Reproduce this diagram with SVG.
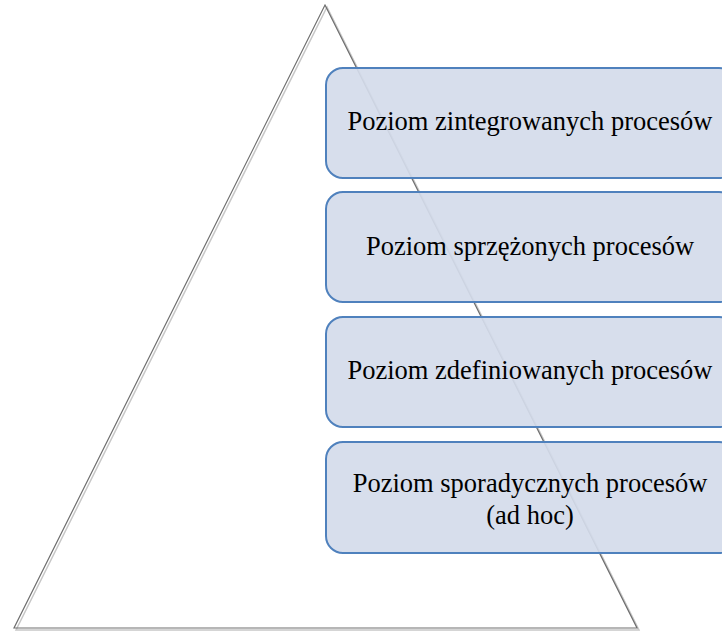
<svg xmlns="http://www.w3.org/2000/svg" width="722" height="634" viewBox="0 0 722 634">
  <style>
    .box { fill: #d4dbea; fill-opacity: 0.92; stroke: #4f81bd; stroke-width: 2; }
    .label { font-family: "Liberation Serif", "Times New Roman", serif; font-size: 26.5px; fill: #000; text-anchor: middle; }
    .tri { fill: none; stroke: #6e6e6e; stroke-width: 1.2; stroke-linejoin: miter; }
    .tri-shadow { fill: none; stroke: #c8c8c8; stroke-width: 1.5; }
  </style>
  <rect width="722" height="634" fill="#ffffff"/>

  <!-- pyramid outline -->
  <g id="pyramid">
    <polygon class="tri-shadow" points="327,7 639,630 16,630"/>
    <polygon class="tri" points="325,5 637,628 14,628"/>
  </g>

  <!-- levels -->
  <g id="level-4">
    <rect class="box" x="326" y="68" width="410" height="110" rx="17"/>
    <text class="label" x="530" y="130">Poziom zintegrowanych procesów</text>
  </g>
  <g id="level-3">
    <rect class="box" x="326" y="192" width="410" height="110" rx="17"/>
    <text class="label" x="530" y="255">Poziom sprzężonych procesów</text>
  </g>
  <g id="level-2">
    <rect class="box" x="326" y="317" width="410" height="110" rx="17"/>
    <text class="label" x="530" y="379">Poziom zdefiniowanych procesów</text>
  </g>
  <g id="level-1">
    <rect class="box" x="326" y="442" width="410" height="111" rx="17"/>
    <text class="label" x="530" y="492">Poziom sporadycznych procesów</text>
    <text class="label" x="530" y="524">(ad hoc)</text>
  </g>
  <g id="connectors"/>
</svg>
